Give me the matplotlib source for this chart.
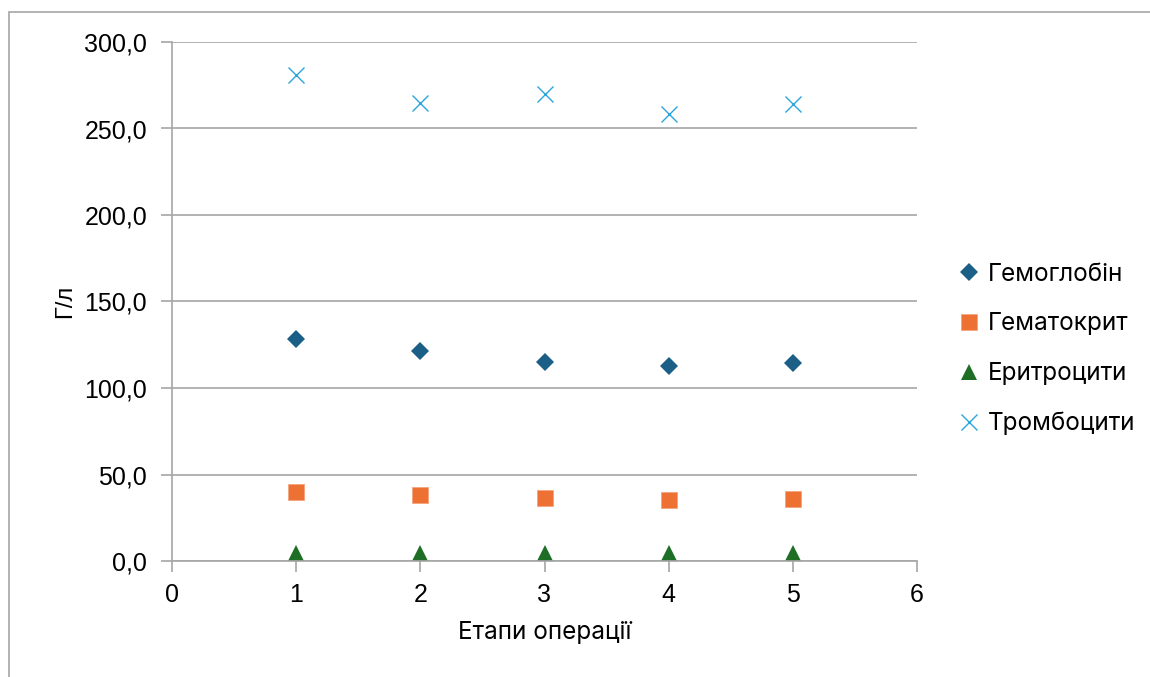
import matplotlib.pyplot as plt
from matplotlib.patches import Rectangle
from matplotlib.ticker import FuncFormatter

# Етапи операції
stages = [1, 2, 3, 4, 5]

# Показники крові, Г/л
hemoglobin = [128.3, 121.4, 115.0, 112.7, 114.5]
hematocrit = [39.9, 38.2, 36.4, 35.3, 35.8]
erythrocytes = [4.6, 4.5, 4.4, 4.4, 4.4]
platelets = [280.9, 264.7, 269.9, 258.4, 264.2]

series_names = ["Гемоглобін", "Гематокрит", "Еритроцити", "Тромбоцити"]

GRID = "#a6a6a6"
W, H = 1150, 677

fig = plt.figure(figsize=(W / 100, H / 100), dpi=100)
fig.patch.set_facecolor("white")

# outer chart frame (only left and top edges fall inside the image)
fig.patches.append(Rectangle((9 / W, -0.1), 1.2, (H - 12) / H + 0.1,
                             transform=fig.transFigure, fill=False,
                             edgecolor=GRID, linewidth=1.2))

ax = fig.add_axes([172 / W, (H - 561) / H, (917 - 172) / W, (561 - 42) / H])

ax.plot(stages, hemoglobin, linestyle="none", marker="D", markersize=9.5,
        color="#1b5e86", markeredgewidth=0, label=series_names[0])
ax.plot(stages, hematocrit, linestyle="none", marker="s", markersize=11.5,
        color="#ec7133", markeredgecolor="#f4a57e", markeredgewidth=0.6,
        label=series_names[1])
ax.plot(stages, erythrocytes, linestyle="none", marker="^", markersize=12,
        color="#1e6e25", markeredgewidth=0, label=series_names[2])
ax.plot(stages, platelets, linestyle="none", marker="x", markersize=12,
        color="#2ba6dc", markeredgewidth=1.0, label=series_names[3])

ax.set_xlim(0, 6)
ax.set_ylim(0, 300)
ax.set_xticks(range(0, 7))
ax.set_yticks(range(0, 301, 50))
ax.yaxis.set_major_formatter(FuncFormatter(lambda v, p: f"{v:.1f}".replace(".", ",")))

ax.grid(axis="y", color=GRID, linewidth=1.2)
ax.set_axisbelow(True)
for side in ("top", "right"):
    ax.spines[side].set_visible(False)
for side in ("left", "bottom"):
    ax.spines[side].set_color(GRID)
    ax.spines[side].set_linewidth(1.2)

ax.tick_params(axis="both", direction="out", length=8, width=1.2, color=GRID,
               labelsize=18)
ax.tick_params(axis="y", pad=10)
ax.tick_params(axis="x", pad=8)
for lbl in ax.get_xticklabels() + ax.get_yticklabels():
    lbl.set_fontfamily("Liberation Sans")

ax.set_ylabel("Г/л", fontsize=17, family="Liberation Sans", labelpad=6)
ax.set_xlabel("Етапи операції", fontsize=17.5, family="Inter", labelpad=10)

leg = fig.legend(loc="center left", bbox_to_anchor=(959 / W, (H - 349) / H),
                 frameon=False, prop={"family": "Inter", "size": 17.5},
                 handlelength=0.8, handletextpad=0.4, labelspacing=1.1,
                 borderaxespad=0, borderpad=0)

fig.savefig("out.png", dpi=100, facecolor="white")
